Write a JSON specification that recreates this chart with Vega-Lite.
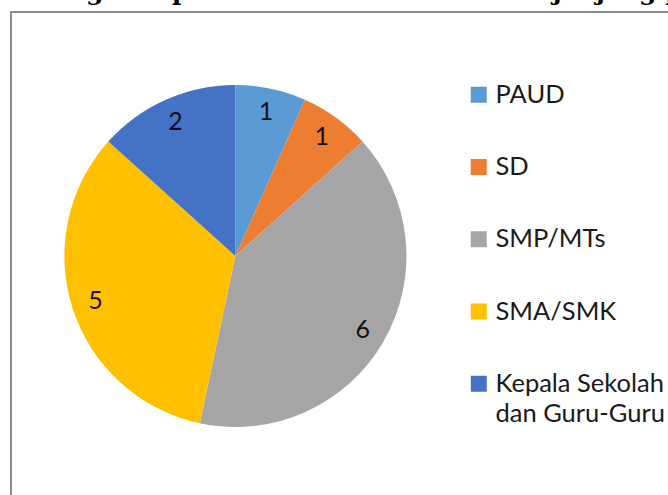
{
  "$schema": "https://vega.github.io/schema/vega-lite/v6.json",
  "width": 680,
  "height": 500,
  "autosize": {"type": "none"},
  "padding": {"left": 11, "top": 12, "right": 0, "bottom": 0},
  "background": "white",
  "title": {
    "text": "1. Pengelompokan artikel berdasarkan jenjang pendidikan",
    "anchor": "start",
    "frame": "group",
    "font": "DejaVu Serif",
    "fontWeight": "bold",
    "fontSize": 25,
    "color": "#000000",
    "baseline": "alphabetic",
    "offset": -13,
    "dx": -12
  },
  "config": {
    "view": {"stroke": "#8c8c8c", "strokeWidth": 2},
    "font": "Lato"
  },
  "data": {
    "values": [
      {"jenjang": "PAUD", "jumlah": 1},
      {"jenjang": "SD", "jumlah": 1},
      {"jenjang": "SMP/MTs", "jumlah": 6},
      {"jenjang": "SMA/SMK", "jumlah": 5},
      {"jenjang": "Kepala Sekolah dan Guru-Guru", "jumlah": 2}
    ]
  },
  "transform": [{"window": [{"op": "row_number", "as": "urutan"}]}],
  "encoding": {
    "theta": {"field": "jumlah", "type": "quantitative", "stack": true},
    "order": {"field": "urutan", "type": "quantitative"},
    "x": {"datum": 0.33, "type": "quantitative", "scale": {"domain": [0, 1]}, "axis": null},
    "y": {"datum": 0.512, "type": "quantitative", "scale": {"domain": [0, 1]}, "axis": null}
  },
  "layer": [
    {
      "mark": {"type": "arc", "outerRadius": 171},
      "encoding": {
        "color": {
          "field": "jenjang",
          "type": "nominal",
          "scale": {
            "domain": ["PAUD", "SD", "SMP/MTs", "SMA/SMK", "Kepala Sekolah dan Guru-Guru"],
            "range": ["#5B9BD5", "#ED7D31", "#A5A5A5", "#FFC000", "#4472C4"]
          },
          "legend": {
            "orient": "none",
            "legendX": 455,
            "legendY": 70,
            "title": null,
            "padding": 0,
            "symbolType": "square",
            "symbolSize": 256,
            "symbolStrokeWidth": 0,
            "symbolOffset": 0,
            "labelOffset": 4,
            "labelFont": "Lato",
            "labelFontSize": 25.5,
            "labelColor": "#1a1a1a",
            "labelLimit": 300,
            "rowPadding": 45.25,
            "labelExpr": "datum.label == 'Kepala Sekolah dan Guru-Guru' ? ['Kepala Sekolah', 'dan Guru-Guru'] : datum.label",
            "encode": {"labels": {"update": {"lineHeight": {"value": 30}}}}
          }
        }
      }
    },
    {
      "mark": {"type": "text", "radius": 147, "font": "Lato", "fontSize": 25, "color": "#111111", "baseline": "middle", "align": "center"},
      "encoding": {
        "text": {"field": "jumlah", "type": "quantitative"}
      }
    }
  ]
}
